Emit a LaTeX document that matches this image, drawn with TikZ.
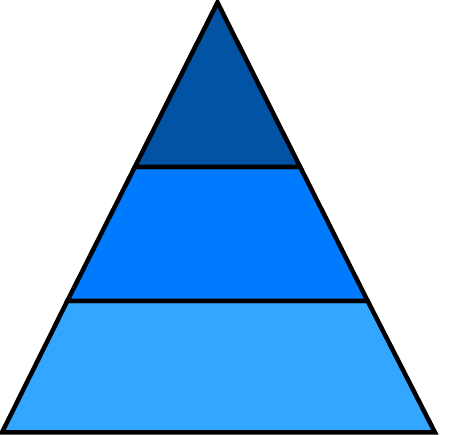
\documentclass[tikz,border=0pt]{standalone}
\usepackage{tikz}
\usetikzlibrary{calc}

\definecolor{topblue}{HTML}{0353A4}
\definecolor{midblue}{HTML}{007BFF}
\definecolor{lowblue}{HTML}{33A6FF}

\begin{document}
\begin{tikzpicture}[x=1pt,y=-1pt,line width=4.5pt]
    \useasboundingbox (0,0) rectangle (450,435);

    \draw[fill=lowblue] (67.3,301) -- (367.7,301) -- (435,432.5) -- (2,432.5) -- cycle ;

    \draw[fill=midblue] (134.8,167) -- (300.2,167) -- (367.7,301) -- (67.3,301) -- cycle ;

    \draw[fill=topblue] (217.5,2.5) -- (300.2,167) -- (134.8,167) -- cycle ;

\end{tikzpicture}
\end{document}
